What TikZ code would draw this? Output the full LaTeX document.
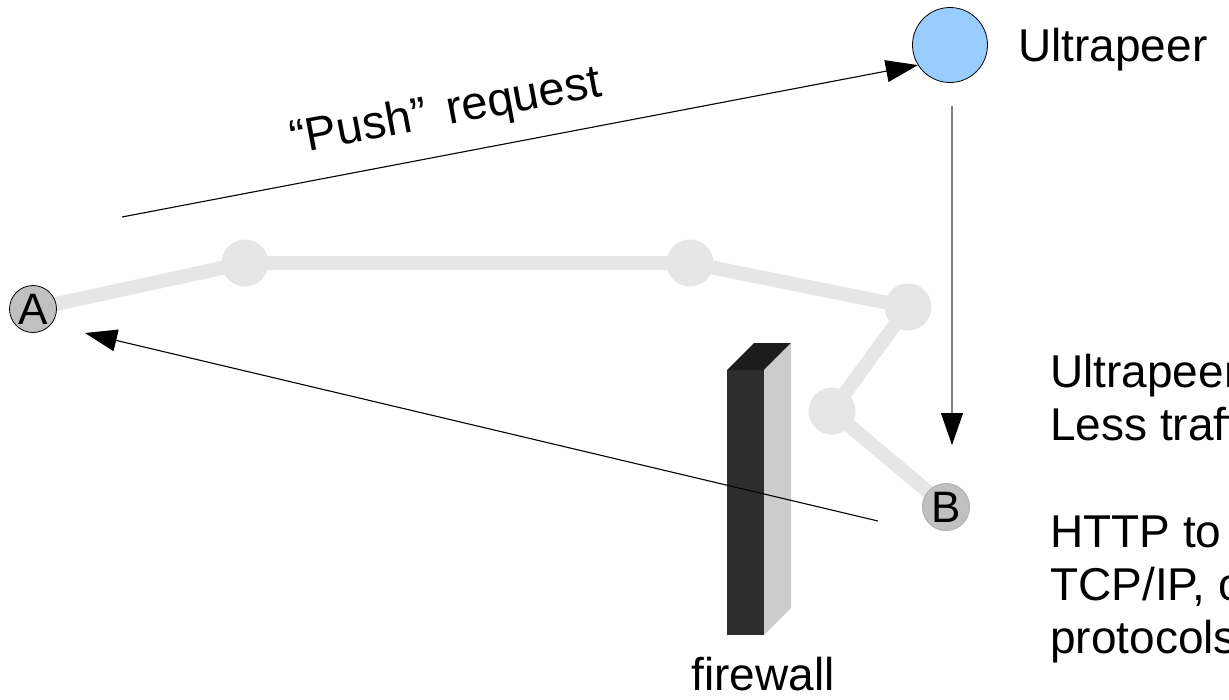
\documentclass[tikz,border=0pt]{standalone}
\usepackage{fontspec}
\setmainfont{Liberation Sans}
\usetikzlibrary{arrows.meta,backgrounds}
\definecolor{hopgray}{HTML}{E6E6E6}
\definecolor{peergray}{HTML}{C0C0C0}
\definecolor{upblue}{HTML}{99CCFF}
\definecolor{wallfront}{HTML}{2D2D2D}
\definecolor{walltop}{HTML}{1C1C1C}
\definecolor{wallside}{HTML}{CCCCCC}
\begin{document}
\begin{tikzpicture}[x=1pt,y=-1pt,
  txt/.style={font=\fontsize{46}{53}\selectfont, inner sep=0pt},
  hop/.style={circle, fill=hopgray, minimum size=47pt, inner sep=0pt},
  link/.style={draw=hopgray, line width=14pt},
  peer/.style={circle, minimum size=47pt, inner sep=0pt, fill=peergray, font=\fontsize{44}{44}\selectfont},
  msg/.style={line width=1.1pt, -{Triangle[length=32pt,width=22pt,color=black]}}]
\useasboundingbox (0,0) rectangle (1229,699);

% peers and intermediate hops
\node[peer, draw=black, line width=0.8pt] (A) at (33,309) {A};
\node[peer, draw=black!30, line width=1pt] (B) at (946,507) {B};
\node[hop] (g1) at (245,263) {};
\node[hop] (g2) at (690,263) {};
\node[hop] (g3) at (908,307) {};
\node[hop] (g4) at (832,411) {};
\node[circle, fill=upblue, draw=black, line width=0.8pt, minimum size=75pt, inner sep=0pt] (up) at (950,45) {};

% gnutella route between A and B
\begin{scope}[on background layer]
  \draw[link] (A.center) -- (g1.center) -- (g2.center) -- (g3.center) -- (g4.center) -- (B.center);
\end{scope}

% firewall block
\fill[wallfront] (727,370) rectangle (764,635);
\fill[walltop] (727,370) -- (764,370) -- (791,343) -- (754,343) -- cycle;
\fill[wallside] (764,370) -- (791,343) -- (791,608) -- (764,635) -- cycle;
\node[txt, anchor=base] (fwlabel) at (763,690) {firewall};

% messages
\coordinate (pushtail) at (122,217);
\draw[msg] (pushtail) -- (up.212);
\node[txt, font=\fontsize{47}{53}\selectfont, rotate=10.6] (pushlabel) at (446,113) {“Push”\hspace{20pt}request};

\coordinate (downtail) at (952,106);
\coordinate (downtip) at (952,445);
\draw[msg, draw=gray] (downtail) -- (downtip);

\coordinate (backtail) at (878,521);
\coordinate (backtip) at (85,333);
\draw[msg] (backtail) -- (backtip);

\node[txt, anchor=base west] (uplabel) at (1018,61) {Ultrapeer};

% side notes
\begin{scope}
  \clip (0,0) rectangle (1229,699);
  \node[txt, anchor=base west] (n1) at (1050,387) {Ultrapeer};
  \node[txt, anchor=base west] (n2) at (1050,440) {Less traffic};
  \node[txt, anchor=base west] (n3) at (1050,547) {HTTP to};
  \node[txt, anchor=base west] (n4) at (1050,600) {TCP/IP, or};
  \node[txt, anchor=base west] (n5) at (1050,653) {protocols};
\end{scope}
\end{tikzpicture}
\end{document}
